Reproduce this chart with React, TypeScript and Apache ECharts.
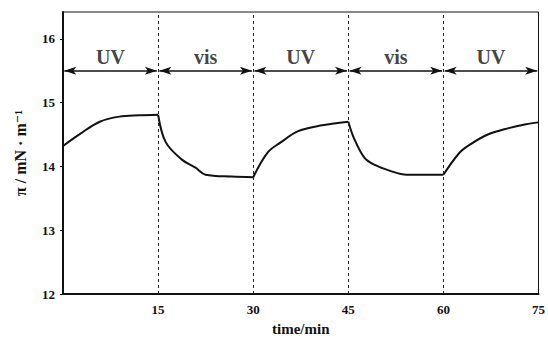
import React, { useEffect, useRef } from "react";
import * as echarts from "echarts";

const times = [0, 2.7, 5.8, 8.9, 12, 15, 16.2, 18.7, 20.9, 22.5, 26.6, 30, 32.3, 34.4, 37, 40.6, 45, 45.9, 47.5, 49, 51.6, 54.2, 60, 62.5, 64, 67, 70.3, 73, 75];
const pressure = [14.32, 14.51, 14.7, 14.78, 14.8, 14.81, 14.38, 14.11, 13.98, 13.87, 13.84, 13.83, 14.22, 14.38, 14.55, 14.64, 14.7, 14.44, 14.14, 14.03, 13.93, 13.87, 13.87, 14.21, 14.33, 14.5, 14.6, 14.66, 14.69];
const boundaries = [15, 30, 45, 60];
const phases = ["UV", "vis", "UV", "vis", "UV"];
const phaseStarts = [0, 15, 30, 45, 60];
const phaseEnds = [15, 30, 45, 60, 75];
const arrowLevel = 15.5;
const labelLevel = 15.5;

const serif = "'Liberation Serif', 'DejaVu Serif', serif";

export default function App() {
  const ref = useRef<HTMLDivElement>(null);
  useEffect(() => {
    if (!ref.current) return;
    const chart = echarts.init(ref.current, null, { renderer: "svg" });
    const arrowData = phaseStarts.map((s, i) => [
      { coord: [s + 0.2, arrowLevel] },
      { coord: [phaseEnds[i] - 0.2, arrowLevel] },
    ]);
    const segmentSeries = phaseStarts.map((s, i) => ({
      type: "line",
      data: times
        .map((t, j) => [t, pressure[j]])
        .filter((p) => p[0] >= s && p[0] <= phaseEnds[i]),
      smooth: 0.35,
      showSymbol: false,
      lineStyle: { color: "#111", width: 2 },
    }));
    chart.setOption({
      animation: false,
      backgroundColor: "#fff",
      grid: {
        left: 63,
        right: 5,
        top: 12,
        bottom: 36,
        show: true,
        borderColor: "#111",
        borderWidth: 1,
      },
      xAxis: {
        type: "value",
        min: 0,
        max: 75,
        interval: 15,
        name: "time/min",
        nameLocation: "middle",
        nameGap: 27,
        nameTextStyle: { fontFamily: serif, fontWeight: "bold", fontSize: 15, color: "#111" },
        axisLine: { lineStyle: { color: "#111", width: 2 } },
        axisTick: { show: false },
        splitLine: { show: false },
        axisLabel: {
          showMinLabel: false,
          fontFamily: serif,
          fontWeight: "bold",
          fontSize: 13,
          color: "#111",
          margin: 9,
        },
      },
      yAxis: {
        type: "value",
        min: 12,
        max: 16.42,
        interval: 1,
        name: "π / mN · m⁻¹",
        nameLocation: "middle",
        nameGap: 35,
        nameTextStyle: { fontFamily: serif, fontWeight: "bold", fontSize: 16, color: "#111" },
        axisLine: { lineStyle: { color: "#111", width: 2 } },
        axisTick: { show: true, length: 3, lineStyle: { color: "#111" } },
        splitLine: { show: false },
        axisLabel: {
          showMaxLabel: false,
          fontFamily: serif,
          fontWeight: "bold",
          fontSize: 13,
          color: "#111",
          margin: 8,
        },
      },
      series: [
        ...segmentSeries,
        {
          type: "line",
          data: [],
          markLine: {
            silent: true,
            symbol: ["none", "none"],
            label: { show: false },
            lineStyle: { color: "#222", type: [3, 3], width: 1 },
            data: boundaries.map((b) => ({ xAxis: b })),
          },
        },
        {
          type: "line",
          data: [],
          markLine: {
            silent: true,
            symbol: ["arrow", "arrow"],
            symbolSize: [6, 12],
            label: { show: false },
            lineStyle: { color: "#111", type: "solid", width: 1.5 },
            data: arrowData,
          },
        },
        {
          type: "scatter",
          symbolSize: 0,
          data: phases.map((p, i) => ({ value: [(phaseStarts[i] + phaseEnds[i]) / 2, labelLevel], name: p })),
          label: {
            show: true,
            position: "top",
            distance: 4,
            formatter: (p: any) => p.name,
            fontFamily: serif,
            fontWeight: "bold",
            fontSize: 20,
            color: "#111",
          },
        },
      ],
    });
    return () => chart.dispose();
  }, []);
  return <div ref={ref} style={{ width: 548, height: 341, position: "absolute", left: 0, top: 0 }} />;
}
